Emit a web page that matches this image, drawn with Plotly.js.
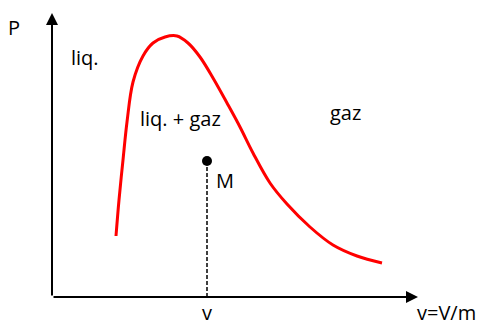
<!DOCTYPE html>
<html>
<head>
<meta charset="utf-8">
<script src="https://cdn.plot.ly/plotly-3.0.1.min.js"></script>
<style>html,body{margin:0;padding:0;background:#fff;}#chart{width:478px;height:325px;}</style>
</head>
<body>
<div id="chart"></div>
<script>
// Saturation curve (specific volume v, pressure P), schematic units
const curveV = [64, 67, 71, 75, 81, 91, 101, 113, 125, 136, 148, 161, 175, 188, 201, 218, 235, 258, 281, 305, 330];
const curveP = [61, 97, 137, 175, 215, 241, 254, 260, 261, 254, 240, 219, 194, 170, 144, 114, 93, 70, 52, 41, 34];

// State point M
const pointV = [155];
const pointP = [136];

// Axis extents (arrow tips)
const axisVMax = 366;
const axisPMax = 284;

// Region labels
const regionLabels = ["liq.", "liq. + gaz", "gaz"];
const regionV = [33, 128, 293];
const regionP = [240, 179, 185];

const FONT = "'Open Sans', Lato, sans-serif";

const traces = [
  {
    x: curveV, y: curveP, type: "scatter", mode: "lines",
    line: {color: "#ff0000", width: 3, shape: "spline", smoothing: 1},
    hoverinfo: "skip"
  },
  {
    x: [pointV[0], pointV[0]], y: [pointP[0], 0], type: "scatter", mode: "lines",
    line: {color: "#000", width: 1.5, dash: "4px,2px"},
    hoverinfo: "skip"
  },
  {
    x: pointV, y: pointP, type: "scatter", mode: "markers",
    marker: {color: "#000", size: 10},
    hoverinfo: "skip"
  }
];

const text = (t, x, y, extra) => Object.assign({
  text: t, x: x, y: y, xref: "x", yref: "y", showarrow: false,
  font: {family: FONT, size: 20, color: "#000"}
}, extra || {});

const annotations = [
  // axes with arrowheads
  {x: axisVMax, y: 0, ax: 0, ay: 0, xref: "x", yref: "y", axref: "x", ayref: "y",
   showarrow: true, arrowhead: 2, arrowsize: 1.2, arrowwidth: 2, arrowcolor: "#000", text: ""},
  {x: 0, y: axisPMax, ax: 0, ay: 0, xref: "x", yref: "y", axref: "x", ayref: "y",
   showarrow: true, arrowhead: 2, arrowsize: 1.2, arrowwidth: 2, arrowcolor: "#000", text: ""},
  text("P", -38, 270),
  text("M", 173, 117),
  // bottom labels sit on a baseline near the lower edge
  text("v", pointV[0], -28, {yanchor: "bottom", yshift: -3}),
  text("v=V/m", 394, -28, {yanchor: "bottom", yshift: -3})
];
regionLabels.forEach((t, i) => annotations.push(text(t, regionV[i], regionP[i])));

const layout = {
  width: 478, height: 325,
  margin: {l: 0, r: 0, t: 0, b: 0},
  paper_bgcolor: "#fff", plot_bgcolor: "#fff",
  showlegend: false,
  xaxis: {range: [-52, 426], visible: false, fixedrange: true},
  yaxis: {range: [-28, 297], visible: false, fixedrange: true},
  annotations: annotations
};

Plotly.newPlot("chart", traces, layout, {staticPlot: true, displayModeBar: false});
</script>
</body>
</html>
